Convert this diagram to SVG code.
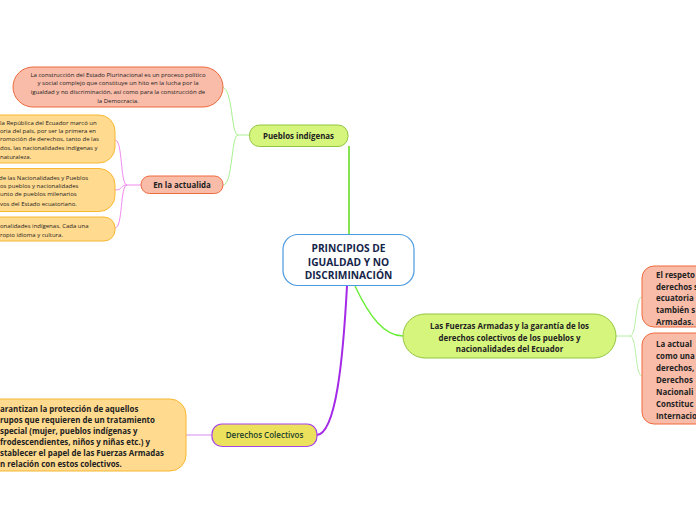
<svg xmlns="http://www.w3.org/2000/svg" width="696" height="520" viewBox="0 0 696 520">
<style>
.t{font-family:"Open Sans","Noto Sans",sans-serif;fill:#222;}
.sm{font-size:6px;}
.b{font-weight:bold;}
.lb{font-size:7.9px;font-weight:bold;}
.c{text-anchor:middle;}
.salmon{fill:#f9bca9;stroke:#ee6a3e;stroke-width:1;}
.yel{fill:#ffda8f;stroke:#f8b833;stroke-width:1;}
.grn{fill:#d6f57d;stroke:#92c63f;stroke-width:1;}
.con{fill:none;}
</style>
<rect width="696" height="520" fill="#ffffff"/>
<g id="connectors">
  <path class="con" d="M349,236 V146" stroke="#66dd22" stroke-width="1.6"/>
  <path class="con" d="M250,135 H238 C231,135 233,88 222,87" stroke="#a8f090" stroke-width="1"/>
  <path class="con" d="M238,135 C231,135 233,185 223,185" stroke="#a8f090" stroke-width="1"/>
  <path class="con" d="M141,185 H127 C120,185 123,140 115,140" stroke="#f28af2" stroke-width="1"/>
  <path class="con" d="M127,185 C120,185 123,190 115,190" stroke="#f28af2" stroke-width="1"/>
  <path class="con" d="M127,185 C120,185 123,228 115,228" stroke="#f28af2" stroke-width="1"/>
  <path class="con" d="M355,286 C370,318 385,336 403,336" stroke="#66ee33" stroke-width="1.4"/>
  <path class="con" d="M616,336 H630 C637,336 635,297 642,297" stroke="#b8f0a4" stroke-width="1"/>
  <path class="con" d="M630,336 C637,336 635,376 642,376" stroke="#b8f0a4" stroke-width="1"/>
  <path class="con" d="M347,286 C343,360 336,433 317,435" stroke="#a52ae8" stroke-width="2"/>
  <path class="con" d="M212,435 H186" stroke="#d28af0" stroke-width="1"/>
</g>
<g id="central">
  <rect x="283" y="234.5" width="131" height="51" rx="15" fill="#ffffff" stroke="#4a9ae0" stroke-width="1.2"/>
  <text class="t b c" x="348.5" y="252" font-size="10.2" style="fill:#15244a">PRINCIPIOS DE</text>
  <text class="t b c" x="348.5" y="265.5" font-size="10.2" style="fill:#15244a">IGUALDAD Y NO</text>
  <text class="t b c" x="348.5" y="279" font-size="10.2" style="fill:#15244a">DISCRIMINACIÓN</text>
</g>
<g id="pueblos">
  <rect class="grn" x="249.5" y="125" width="98.5" height="21.5" rx="10"/>
  <text class="t lb c" x="298.5" y="138.5">Pueblos indígenas</text>
</g>
<g id="construccion">
  <rect class="salmon" x="13" y="67" width="210" height="40" rx="20"/>
  <text class="t sm c" x="118" y="76.5">La construcción del Estado Plurinacional es un proceso político</text>
  <text class="t sm c" x="118" y="85">y social complejo que constituye un hito en la lucha por la</text>
  <text class="t sm c" x="118" y="94">igualdad y no discriminación, así como para la construcción de</text>
  <text class="t sm c" x="118" y="102.5">la Democracia.</text>
</g>
<g id="actualida">
  <rect class="salmon" x="141" y="176" width="82" height="17.5" rx="8.5"/>
  <text class="t lb c" x="182" y="187.8">En la actualida</text>
</g>
<g id="y1">
  <rect class="yel" x="-20" y="115" width="135" height="48" rx="16"/>
  <text class="t sm" x="0" y="124.5">la República del Ecuador marcó un</text>
  <text class="t sm" x="0" y="132.7">oria del país, por ser la primera en</text>
  <text class="t sm" x="0" y="141">romoción de derechos, tanto de las</text>
  <text class="t sm" x="0" y="149.7">dos, las nacionalidades indígenas y</text>
  <text class="t sm" x="0" y="158.5">naturaleza.</text>
</g>
<g id="y2">
  <rect class="yel" x="-20" y="168.5" width="135" height="43" rx="16"/>
  <text class="t sm" x="-1" y="179.5">de las Nacionalidades y Pueblos</text>
  <text class="t sm" x="0" y="187.8">os pueblos y nacionalidades</text>
  <text class="t sm" x="0" y="196.3">unto de pueblos milenarios</text>
  <text class="t sm" x="0" y="205.5">vos del Estado ecuatoriano.</text>
</g>
<g id="y3">
  <rect class="yel" x="-20" y="217" width="135" height="24" rx="11"/>
  <text class="t sm" x="0" y="228">onalidades indígenas. Cada una</text>
  <text class="t sm" x="0" y="237">ropio idioma y cultura.</text>
</g>
<g id="fuerzas">
  <rect class="grn" x="403" y="314" width="213" height="44" rx="22"/>
  <text class="t lb c" x="509.5" y="329">Las Fuerzas Armadas y la garantía de los</text>
  <text class="t lb c" x="509.5" y="340.5">derechos colectivos de los pueblos y</text>
  <text class="t lb c" x="509.5" y="352">nacionalidades del Ecuador</text>
</g>
<g id="respeto">
  <rect class="salmon" x="642" y="266" width="70" height="61" rx="12"/>
  <text class="t lb" x="656" y="277.5">El respeto</text>
  <text class="t lb" x="656" y="289.5">derechos s</text>
  <text class="t lb" x="656" y="301">ecuatoria</text>
  <text class="t lb" x="656" y="313">también s</text>
  <text class="t lb" x="656" y="324.5">Armadas.</text>
</g>
<g id="actual">
  <rect class="salmon" x="642" y="333" width="70" height="91" rx="12"/>
  <text class="t lb" x="656" y="347">La actual</text>
  <text class="t lb" x="656" y="359">como una</text>
  <text class="t lb" x="656" y="371">derechos,</text>
  <text class="t lb" x="656" y="383">Derechos</text>
  <text class="t lb" x="656" y="395">Nacionali</text>
  <text class="t lb" x="656" y="407">Constituc</text>
  <text class="t lb" x="656" y="419">Internacio</text>
</g>
<g id="derechos">
  <rect x="212" y="424" width="105" height="22.5" rx="10" fill="#ece15c" stroke="#a743e8" stroke-width="1.2"/>
  <text class="t c" x="264.5" y="437.8" font-size="8" font-weight="600" style="fill:#1b402c">Derechos Colectivos</text>
</g>
<g id="garantizan">
  <rect class="yel" x="-20" y="399" width="206" height="72" rx="16"/>
  <text class="t lb" x="0" y="412">arantizan la protección de aquellos</text>
  <text class="t lb" x="0" y="423">rupos que requieren de un tratamiento</text>
  <text class="t lb" x="0" y="434">special (mujer, pueblos indígenas y</text>
  <text class="t lb" x="0" y="445">frodescendientes, niños y niñas etc.) y</text>
  <text class="t lb" x="0" y="456">stablecer el papel de las Fuerzas Armadas</text>
  <text class="t lb" x="0" y="467">n relación con estos colectivos.</text>
</g>
</svg>
